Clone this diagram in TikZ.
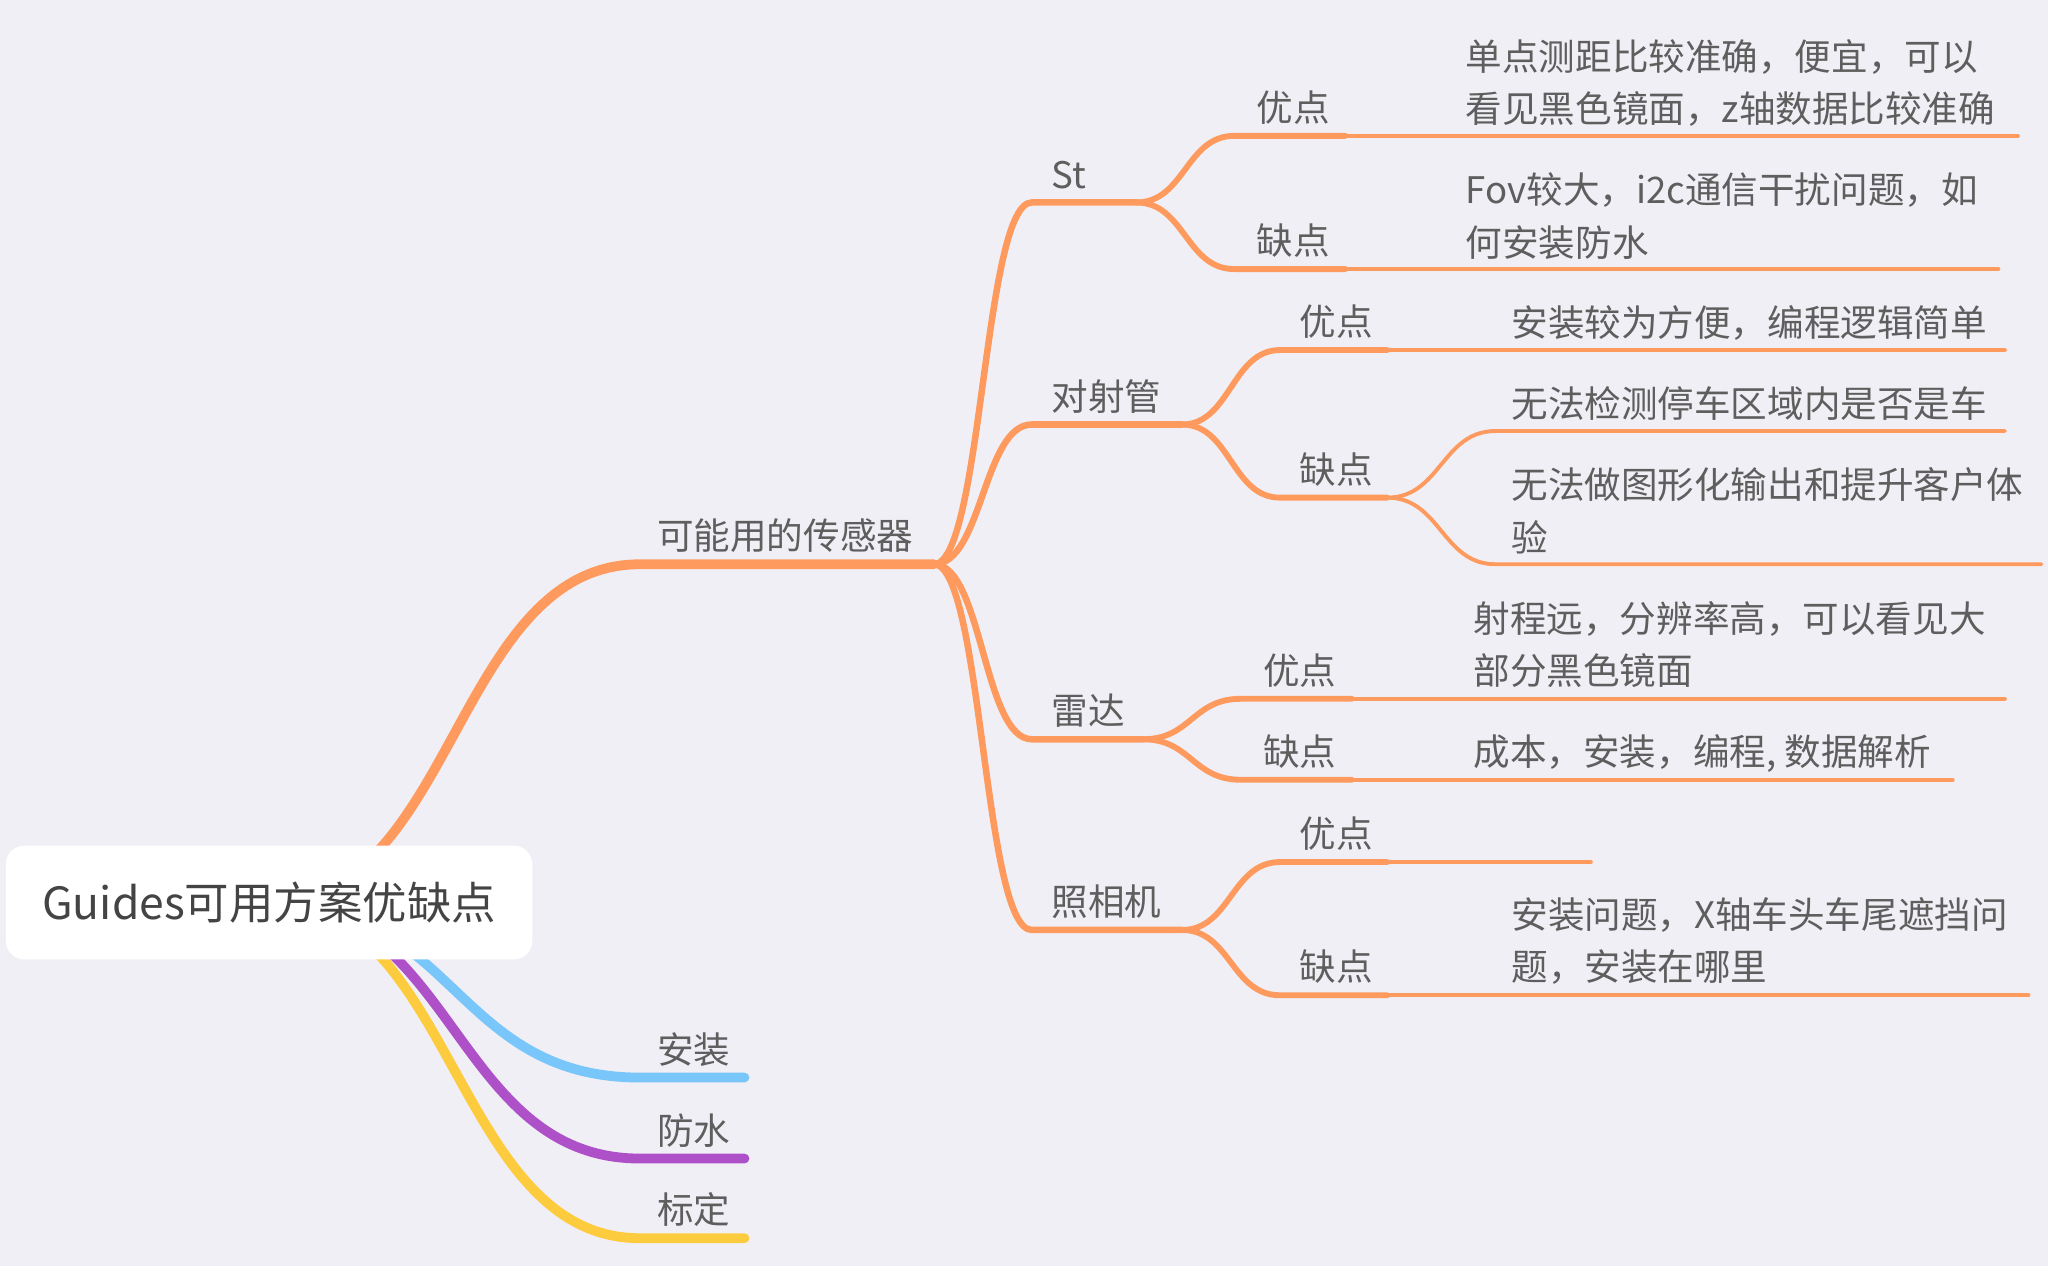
\documentclass[tikz,border=0pt]{standalone}
\usepackage{fontspec}
\setmainfont{Noto Sans CJK SC}
\usepackage{xcolor}
\definecolor{bg}{HTML}{F0EFF5}
\definecolor{org}{HTML}{FF9A5E}
\definecolor{blu}{HTML}{78C6FA}
\definecolor{pur}{HTML}{AE50C8}
\definecolor{yel}{HTML}{FDCB3E}
\definecolor{txt}{HTML}{5E5E5E}
\definecolor{roottxt}{HTML}{444444}

\begin{document}
\begin{tikzpicture}[x=1pt, y=-1pt, line cap=round,
  lbl/.style={anchor=base west, inner sep=0pt, text=txt, align=left, font=\fontsize{28}{40}\selectfont},
  br/.style={line width=7.5pt},
  sub/.style={org, line width=5pt},
  pc/.style={org, line width=4.5pt},
  lf/.style={org, line width=3pt}]

\fill[bg] (0,0) rectangle (1568,969);
\useasboundingbox (0,0) rectangle (1568,969);

\coordinate (rt) at (206,691);
\coordinate (cgq-a) at (490,432);
\coordinate (cgq-b) at (715,432);
\coordinate (az-a) at (490,825);
\coordinate (az-b) at (570,825);
\coordinate (fs-a) at (490,887);
\coordinate (fs-b) at (570,887);
\coordinate (bd-a) at (490,948);
\coordinate (bd-b) at (570,948);

\draw[br, yel] (rt) .. controls +(142,0) and +(-142,0) .. (bd-a) -- (bd-b);
\draw[br, pur] (rt) .. controls +(142,0) and +(-142,0) .. (fs-a) -- (fs-b);
\draw[br, blu] (rt) .. controls +(142,0) and +(-142,0) .. (az-a) -- (az-b);
\draw[br, org] (rt) .. controls +(142,0) and +(-142,0) .. (cgq-a) -- (cgq-b);

\foreach \n/\xa/\xb/\y in {st/790/870/155, dsg/790/905/325, ld/790/875/566, zxj/790/905/712}{
  \coordinate (\n-a) at (\xa,\y);
  \coordinate (\n-b) at (\xb,\y);
  \draw[sub] (cgq-b) .. controls +(37,0) and +(-37,0) .. (\n-a) -- (\n-b);
}

\foreach \p/\n/\xa/\xb/\y in {st/st-yd/945/1030/104, st/st-qd/945/1030/206,
    dsg/dsg-yd/980/1062/268, dsg/dsg-qd/980/1062/381,
    ld/ld-yd/950/1035/535, ld/ld-qd/950/1035/597,
    zxj/zxj-yd/980/1062/660, zxj/zxj-qd/980/1062/762}{
  \coordinate (\n-a) at (\xa,\y);
  \coordinate (\n-b) at (\xb,\y);
  \draw[pc] (\p-b) .. controls +(37,0) and +(-37,0) .. (\n-a) -- (\n-b);
}

\foreach \n/\xc/\y in {st-yd/1545/104, st-qd/1530/206, dsg-yd/1535/268,
    ld-yd/1535/535, ld-qd/1495/597, zxj-yd/1218/660, zxj-qd/1553/762}{
  \coordinate (\n-c) at (\xc,\y);
  \draw[lf] (\n-b) -- (\n-c);
}

\coordinate (dsg-qd-a1) at (1145,330);
\coordinate (dsg-qd-c1) at (1535,330);
\coordinate (dsg-qd-a2) at (1145,432);
\coordinate (dsg-qd-c2) at (1563,432);
\draw[lf] (dsg-qd-b) .. controls +(41,0) and +(-41,0) .. (dsg-qd-a1) -- (dsg-qd-c1);
\draw[lf] (dsg-qd-b) .. controls +(41,0) and +(-41,0) .. (dsg-qd-a2) -- (dsg-qd-c2);

\node[fill=white, rounded corners=14pt, minimum width=403pt, minimum height=87pt,
  inner sep=0pt, text=roottxt, font=\fontsize{34}{40}\selectfont] (root) at (rt) {Guides可用方案优缺点};

\node[lbl] (cgq) at (503,421) {可能用的传感器};
\node[lbl] (az) at (503,814) {安装};
\node[lbl] (fs) at (503,876) {防水};
\node[lbl] (bd) at (503,937) {标定};

\node[lbl] (st) at (805,144) {St};
\node[lbl] (dsg) at (805,314) {对射管};
\node[lbl] (ld) at (805,555) {雷达};
\node[lbl] (zxj) at (805,701) {照相机};

\node[lbl] (st-yd) at (962,93) {优点};
\node[lbl] (st-qd) at (962,195) {缺点};
\node[lbl] (dsg-yd) at (995,257) {优点};
\node[lbl] (dsg-qd) at (995,370) {缺点};
\node[lbl] (ld-yd) at (967,524) {优点};
\node[lbl] (ld-qd) at (967,586) {缺点};
\node[lbl] (zxj-yd) at (995,649) {优点};
\node[lbl] (zxj-qd) at (995,751) {缺点};

\node[lbl] (st-yd-t) at (1122,94) {单点测距比较准确，便宜，可以\\看见黑色镜面，z轴数据比较准确};
\node[lbl] (st-qd-t) at (1122,196) {Fov较大，i2c通信干扰问题，如\\何安装防水};
\node[lbl] (dsg-yd-t) at (1157,258) {安装较为方便，编程逻辑简单};
\node[lbl] (dsg-qd-t1) at (1157,320) {无法检测停车区域内是否是车};
\node[lbl] (dsg-qd-t2) at (1157,422) {无法做图形化输出和提升客户体\\验};
\node[lbl] (ld-yd-t) at (1128,524) {射程远，分辨率高，可以看见大\\部分黑色镜面};
\node[lbl] (ld-qd-t) at (1128,586) {成本，安装，编程, 数据解析};
\node[lbl] (zxj-qd-t) at (1157,751) {安装问题，X轴车头车尾遮挡问\\题，安装在哪里};

\end{tikzpicture}
\end{document}
